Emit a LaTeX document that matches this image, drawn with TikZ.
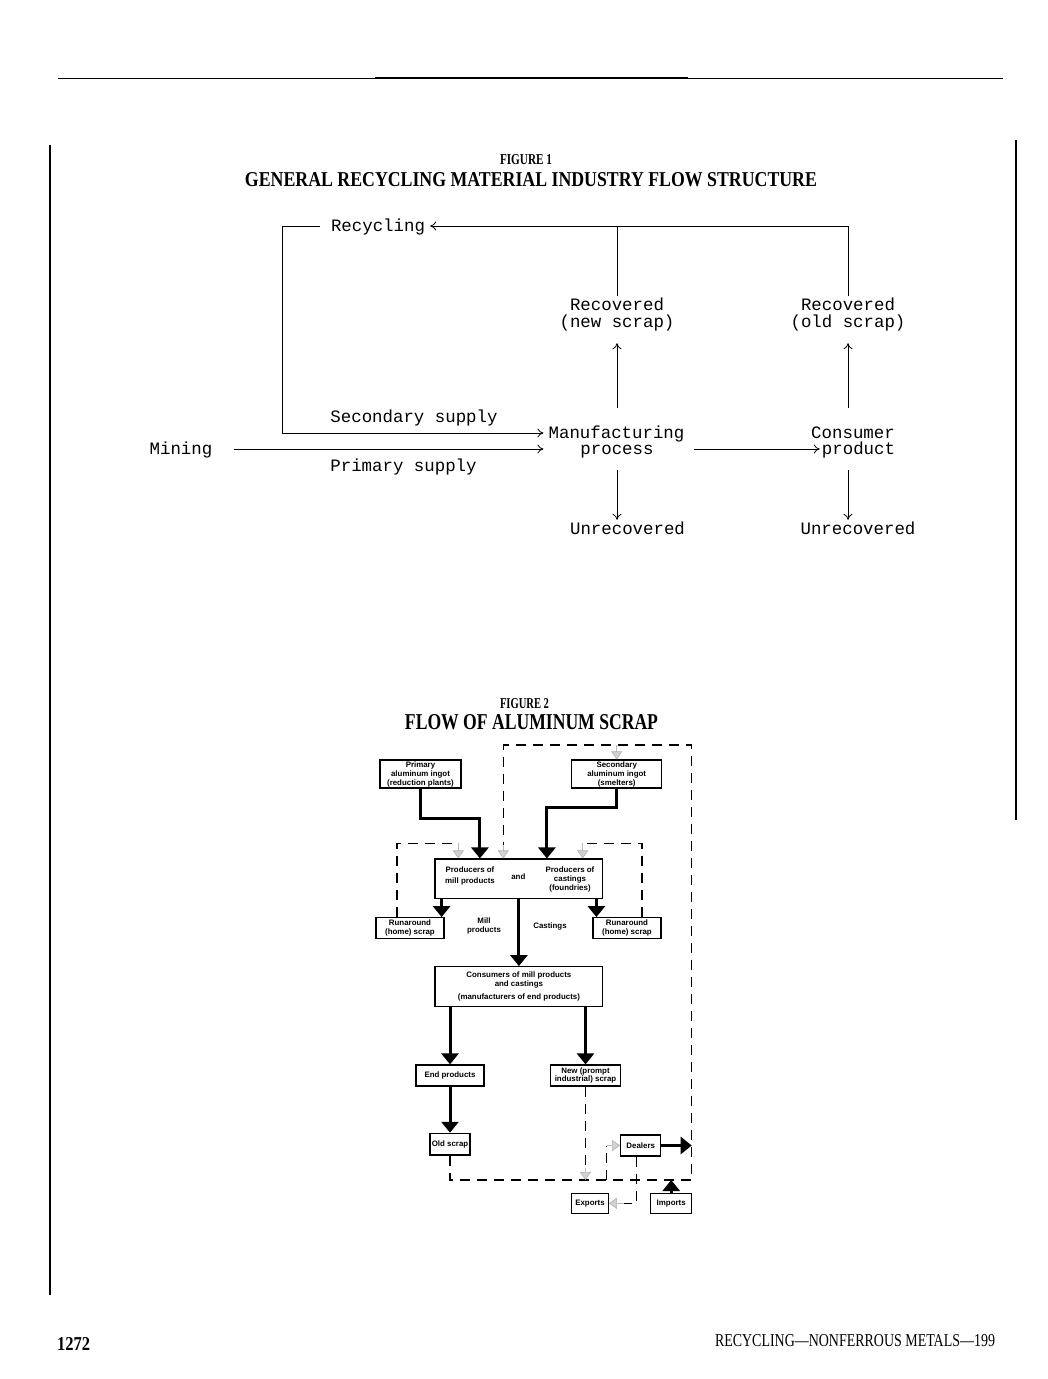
\documentclass[tikz,border=0pt]{standalone}
\usepackage{graphicx}
\usepackage{fontspec}
\setmainfont{Liberation Serif}
\newfontfamily\monof{Liberation Mono}
\newfontfamily\sansf{Liberation Sans}
\usetikzlibrary{arrows.meta,calc}
\begin{document}
\begin{tikzpicture}[x=1pt,y=-1pt,
 f1/.style={font=\monof\fontsize{17.4}{20}\selectfont, inner sep=0pt, text height=10pt, text depth=0pt},
 fl/.style={line width=0.8pt},
 arr/.style={-{To[length=6pt,width=9pt]}},
 f2/.style={font=\sansf\bfseries\fontsize{7.9}{9}\selectfont, inner sep=0pt, align=center},
 box/.style={f2, draw, line width=1.2pt},
 thk/.style={line width=3pt, -{Triangle[length=11pt,width=17pt]}},
 dsh/.style={line width=1.4pt, dash pattern=on 10pt off 7pt},
 garrow/.style={draw=gray!55, line width=0.6pt, -{Triangle[length=8pt,width=11pt,fill=gray!35,color=gray!60]}},
 ttl/.style={inner sep=0pt, font=\bfseries},
]
\fill[white] (0,0) rectangle (1047,1379);
\useasboundingbox (0,0) rectangle (1047,1379);

% page frame
\coordinate (ruleL) at (58,78); \coordinate (ruleR) at (1003,78);
\draw[line width=1pt] (ruleL) -- (ruleR);
\coordinate (thkL) at (375,78); \coordinate (thkR) at (688,78);
\draw[line width=2.8pt] (thkL) -- (thkR);
\coordinate (lvT) at (50,145); \coordinate (lvB) at (50,1295);
\draw[line width=1.1pt] (lvT) -- (lvB);
\coordinate (rvT) at (1016,140); \coordinate (rvB) at (1016,820);
\draw[line width=1.1pt] (rvT) -- (rvB);

% titles and footer
\node[ttl] (fig1) at (526,160) {\resizebox{52pt}{10pt}{FIGURE 1}};
\node[ttl] (t1) at (531,180) {\resizebox{572pt}{14pt}{GENERAL RECYCLING MATERIAL INDUSTRY FLOW STRUCTURE}};
\node[ttl] (fig2) at (524.5,704) {\resizebox{49pt}{10pt}{FIGURE 2}};
\node[ttl] (t2) at (531.5,722) {\resizebox{253pt}{15pt}{FLOW OF ALUMINUM SCRAP}};
\node[ttl] (pg) at (73.5,1343.5) {\resizebox{33pt}{13pt}{1272}};
\node[inner sep=0pt] (rh) at (855,1341) {\resizebox{280pt}{12pt}{RECYCLING—NONFERROUS METALS—199}};

% ---------- Figure 1 ----------
\node[f1] (rec) at (378,226) {Recycling};
\node[f1] (rn1) at (617,305) {Recovered};
\node[f1] (rn2) at (617,322) {(new scrap)};
\node[f1] (ro1) at (848,305) {Recovered};
\node[f1] (ro2) at (848,322) {(old scrap)};
\node[f1] (sec) at (414,417) {Secondary supply};
\node[f1] (man) at (616.5,433) {Manufacturing};
\node[f1] (proc) at (617,449) {process};
\node[f1] (mining) at (181,449) {Mining};
\node[f1] (prim) at (403.5,466) {Primary supply};
\node[f1] (cons) at (853,433) {Consumer};
\node[f1] (prd) at (858.5,449) {product};
\node[f1] (un1) at (627.5,529) {Unrecovered};
\node[f1] (un2) at (858,529) {Unrecovered};

\coordinate (v1) at (617,0); \coordinate (v2) at (848,0); \coordinate (lx) at (282,0);
\draw[fl,arr] ($(ro1.north)+(0,-4)$) -- (v2 |- rec) -- ($(rec.east)+(5,0)$);
\draw[fl] ($(rn1.north)+(0,-4)$) -- (v1 |- rec);
\draw[fl,arr] ($(rec.west)+(-11,0)$) -| (lx |- man) -- ($(man.west)+(-5,0)$);
\draw[fl,arr] ($(mining.east)+(21,0)$) -- ($(man.west |- proc)+(-5,0)$);
\draw[fl,arr] ($(man.east |- proc)+(9,0)$) -- ($(prd.west)+(-2,0)$);
\draw[fl,arr] ($(v1 |- man.north)+(0,-20)$) -- ($(v1 |- rn2.south)+(0,16)$);
\draw[fl,arr] ($(v2 |- cons.north)+(0,-20)$) -- ($(v2 |- ro2.south)+(0,16)$);
\draw[fl,arr] ($(v1 |- proc.south)+(0,16)$) -- ($(v1 |- un1.north)+(0,-4)$);
\draw[fl,arr] ($(v2 |- prd.south)+(0,16)$) -- ($(v2 |- un2.north)+(0,-4)$);

% ---------- Figure 2 ----------
\node[box, minimum width=81pt, minimum height=28pt] (pai) at (420.5,774) {Primary\\aluminum ingot\\(reduction plants)};
\node[box, minimum width=90pt, minimum height=28pt] (sai) at (616.7,774) {Secondary\\aluminum ingot\\(smelters)};
\node[box, minimum width=167.7pt, minimum height=39.3pt] (prod) at (518.9,878.7) {};
\node[f2] (pm) at (470,875.5) {Producers of\\[2pt]mill products};
\node[f2] (pand) at (518.3,876.7) {and};
\node[f2] (pc) at (570,879.5) {Producers of\\castings\\(foundries)};
\node[box, minimum width=68pt, minimum height=20.6pt] (rl) at (410,928) {Runaround\\(home) scrap};
\node[box, minimum width=68pt, minimum height=20.6pt] (rr) at (627,928) {Runaround\\(home) scrap};
\node[f2] (mill) at (484,925.5) {Mill\\products};
\node[f2] (cast) at (550,926) {Castings};
\node[box, minimum width=167.7pt, minimum height=40pt] (cons2) at (518.9,986.7) {Consumers of mill products\\and castings\\[4pt](manufacturers of end products)};
\node[box, minimum width=68pt, minimum height=21pt] (endp) at (450,1075.5) {End products};
\node[box, minimum width=69.4pt, minimum height=21pt, font=\sansf\bfseries\fontsize{7.9}{8}\selectfont] (nsc) at (585.5,1075.5) {New (prompt\\industrial) scrap};
\node[box, minimum width=40pt, minimum height=21.7pt] (olds) at (450,1144.2) {Old scrap};
\node[box, minimum width=40pt, minimum height=21pt] (deal) at (640.7,1145.5) {Dealers};
\node[box, minimum width=36.6pt, minimum height=20pt] (exp) at (590,1203.3) {Exports};
\node[box, minimum width=41pt, minimum height=20pt] (imp) at (671.2,1203.3) {Imports};

% thick flows
\draw[thk] (pai.south) -- ++(0,30) -| ($(prod.north)+(-39,0)$);
\draw[thk] (sai.south) -- ++(0,18.7) -| ($(prod.north)+(28,0)$);
\coordinate (rlt) at ($(rl.north east)+(-3,0)$);
\coordinate (rrt) at ($(rr.north west)+(4,0)$);
\draw[thk] (rlt |- prod.south) -- (rlt);
\draw[thk] (rrt |- prod.south) -- (rrt);
\draw[thk] (prod.south) -- (cons2.north);
\draw[thk] (endp.north |- cons2.south) -- (endp.north);
\draw[thk] (nsc.north |- cons2.south) -- (nsc.north);
\draw[thk] (endp.south) -- (olds.north);

% dashed scrap loops
\coordinate (BR) at (691.7,1180);
\coordinate (TL) at (503.3,745);
\coordinate (TLd) at (503.3,845);
\draw[dsh] (olds.south) |- (BR) |- (TL) -- (TLd);
\draw[garrow] (TLd) -- (TLd |- prod.north);
\draw[garrow] (sai.north |- TL) -- (sai.north);
\coordinate (aC) at (458.3,843.3);
\draw[dsh] ($(rl.north)+(-13,0)$) |- (aC);
\draw[garrow] (aC) -- (aC |- prod.north);
\coordinate (bC) at (582.7,843.3);
\draw[dsh] ($(rr.north)+(15,0)$) |- (bC);
\draw[garrow] (bC) -- (bC |- prod.north);
\coordinate (nsB) at ($(nsc.south |- BR)+(0,-12)$);
\draw[dsh] (nsc.south) -- (nsB);
\draw[garrow] (nsB) -- (nsc.south |- BR);
\coordinate (dA) at (606.7,1180);
\draw[dsh] (dA) -- (dA |- deal.west);
\draw[garrow] (dA |- deal.west) -- (deal.west);
\coordinate (eC) at (624,1203.3);
\draw[dsh] ($(deal.south)+(-4,0)$) |- (eC);
\draw[garrow] (eC) -- (exp.east);
\draw[thk] (deal.east) -- (deal.east -| BR);
\draw[thk] (imp.north) -- (imp.north |- BR);
\end{tikzpicture}
\end{document}
